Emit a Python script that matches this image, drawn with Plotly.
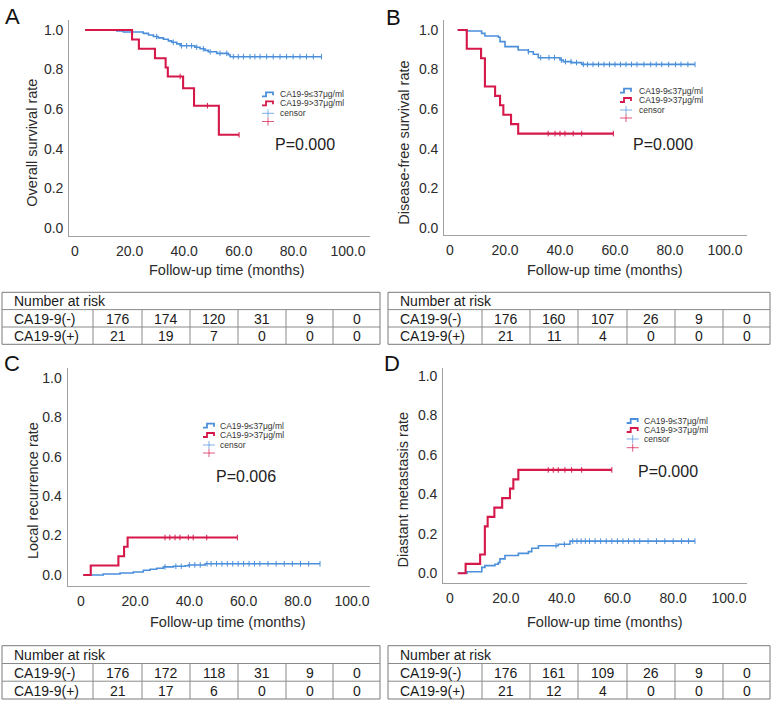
import plotly.graph_objects as go

W, H = 773, 707
BLUE = "#4b8fdb"
RED = "#d5174a"
AXIS_GREY = "#a0a0a0"
TABLE_GREY = "#8a8a8a"
TXT = "#2b2b2b"
FONT = "Liberation Sans, Arial, Helvetica, sans-serif"

# ---------------- data ----------------
x_ticks = [0, 20, 40, 60, 80, 100]
x_tick_text = ["0", "20.0", "40.0", "60.0", "80.0", "100.0"]
y_ticks = [0, 0.2, 0.4, 0.6, 0.8, 1.0]
y_tick_text = ["0.0", "0.2", "0.4", "0.6", "0.8", "1.0"]

group_names = ["CA19-9\u226437\u03bcg/ml", "CA19-9>37\u03bcg/ml"]
row_labels = ["CA19-9(-)", "CA19-9(+)"]
panel_letters = ["A", "B", "C", "D"]
y_titles = ["Overall survival rate", "Disease-free survival rate",
            "Local recurrence rate", "Diastant metastasis rate"]
x_title = "Follow-up time (months)"
p_values = ["P=0.000", "P=0.000", "P=0.006", "P=0.000"]

# A - overall survival
a_neg_t = [3.7, 15.3, 17.7, 25.0, 26.9, 28.7, 30.5, 32.4, 34.2, 35.4, 37.3, 38.5,
           43.9, 45.8, 47.6, 48.8, 51.9, 56.2, 56.8]
a_neg_s = [1.0, 0.995, 0.99, 0.983, 0.975, 0.967, 0.96, 0.953, 0.945, 0.938, 0.93, 0.92,
           0.913, 0.905, 0.897, 0.89, 0.882, 0.875, 0.865]
a_neg_end = 90.3
a_neg_cens = [29.9, 36.0, 39.0, 40.9, 42.7, 44.6, 47.0, 49.5, 53.1, 55.6, 58.0, 59.8,
              61.7, 64.1, 65.9, 67.8, 70.2, 72.6, 75.1, 77.5, 79.9, 82.4, 84.8, 87.3, 90.3]
a_pos_t = [3.7, 20.9, 23.4, 29.3, 33.2, 34.0, 39.6, 43.6, 52.7]
a_pos_s = [1.0, 0.952, 0.905, 0.857, 0.81, 0.765, 0.705, 0.617, 0.47]
a_pos_end = 60.1
a_pos_cens = [38.5, 48.5, 60.1]

# B - disease-free survival
b_neg_t = [2.8, 6.0, 11.5, 12.7, 17.6, 18.2, 20.0, 24.8, 28.5, 30.3, 32.1, 40.0,
           41.2, 44.2, 47.9]
b_neg_s = [1.0, 0.995, 0.983, 0.97, 0.963, 0.941, 0.916, 0.899, 0.89, 0.877, 0.86,
           0.848, 0.84, 0.835, 0.826]
b_neg_end = 89.1
b_neg_cens = [28.5, 33.0, 36.0, 38.0, 40.5, 42.0, 44.0, 46.0, 48.5, 50.0, 52.0, 54.0,
              56.0, 58.0, 60.0, 62.0, 64.0, 66.0, 68.0, 70.5, 73.0, 75.0, 77.0, 79.5,
              82.0, 84.0, 86.5, 89.1]
b_pos_t = [2.8, 6.1, 11.3, 12.7, 16.4, 18.2, 19.4, 22.2, 24.8]
b_pos_s = [1.0, 0.905, 0.857, 0.714, 0.667, 0.619, 0.571, 0.524, 0.476]
b_pos_end = 59.4
b_pos_cens = [35.7, 38.2, 40.0, 41.8, 44.8, 47.9, 59.4]

# C - local recurrence
c_neg_t = [0.85, 8.2, 14.4, 19.3, 23.0, 25.5, 27.9, 30.4, 34.1, 38.4, 39.6, 45.8]
c_neg_s = [0.0, 0.005, 0.01, 0.015, 0.024, 0.029, 0.034, 0.041, 0.044, 0.047, 0.051, 0.057]
c_neg_end = 88.2
c_neg_cens = [31.0, 35.0, 37.0, 40.0, 42.0, 44.0, 46.5, 48.0, 50.0, 52.0, 54.0, 56.0,
              58.0, 60.0, 62.0, 64.0, 66.0, 69.0, 72.0, 75.0, 78.0, 81.0, 84.0, 88.2]
c_pos_t = [0.85, 3.6, 13.8, 15.9, 17.2]
c_pos_s = [0.0, 0.048, 0.095, 0.143, 0.19]
c_pos_end = 57.7
c_pos_cens = [31.0, 32.8, 34.7, 36.5, 39.6, 41.4, 46.4, 57.7]

# D - distant metastasis
d_neg_t = [2.8, 6.1, 11.4, 12.5, 16.1, 17.3, 17.9, 19.7, 24.5, 28.1, 29.3, 31.7, 38.8, 43.0]
d_neg_s = [0.0, 0.008, 0.03, 0.039, 0.046, 0.054, 0.073, 0.09, 0.101, 0.11, 0.127,
           0.14, 0.147, 0.163]
d_neg_end = 87.8
d_neg_cens = [38.0, 41.0, 44.0, 45.5, 47.0, 48.5, 50.0, 52.0, 54.0, 56.0, 58.0, 60.0,
              62.0, 64.0, 66.0, 68.0, 71.0, 74.0, 77.0, 80.0, 83.0, 85.5, 87.8]
d_pos_t = [2.8, 5.6, 10.8, 12.5, 13.5, 15.9, 18.7, 21.5, 22.7, 24.5]
d_pos_s = [0.0, 0.048, 0.095, 0.238, 0.286, 0.333, 0.381, 0.429, 0.476, 0.524]
d_pos_end = 58.0
d_pos_cens = [35.2, 37.0, 38.8, 41.2, 43.6, 47.2, 58.0]

# number at risk
a_risk_neg = [176, 174, 120, 31, 9, 0]
a_risk_pos = [21, 19, 7, 0, 0, 0]
b_risk_neg = [176, 160, 107, 26, 9, 0]
b_risk_pos = [21, 11, 4, 0, 0, 0]
c_risk_neg = [176, 172, 118, 31, 9, 0]
c_risk_pos = [21, 17, 6, 0, 0, 0]
d_risk_neg = [176, 161, 109, 26, 9, 0]
d_risk_pos = [21, 12, 4, 0, 0, 0]

curves = [
    [(a_neg_t, a_neg_s, a_neg_end, a_neg_cens), (a_pos_t, a_pos_s, a_pos_end, a_pos_cens)],
    [(b_neg_t, b_neg_s, b_neg_end, b_neg_cens), (b_pos_t, b_pos_s, b_pos_end, b_pos_cens)],
    [(c_neg_t, c_neg_s, c_neg_end, c_neg_cens), (c_pos_t, c_pos_s, c_pos_end, c_pos_cens)],
    [(d_neg_t, d_neg_s, d_neg_end, d_neg_cens), (d_pos_t, d_pos_s, d_pos_end, d_pos_cens)],
]
risks = [(a_risk_neg, a_risk_pos), (b_risk_neg, b_risk_pos),
         (c_risk_neg, c_risk_pos), (d_risk_neg, d_risk_pos)]

# ---------------- layout geometry (pixels) ----------------
# plot box: left, right, top, bottom; x0 = pixel of month 0, k = px/month;
# y0/y1 = pixel rows of 0.0 and 1.0
geom = [
    dict(l=69.3, r=370, t=20, b=236, x0=75, k=2.73, y0=227.7, y1=30),
    dict(l=444.3, r=746.7, t=20, b=235, x0=450, k=2.75, y0=227.7, y1=30),
    dict(l=67.7, r=370, t=368.3, b=585.7, x0=81, k=2.71, y0=575, y1=377.7),
    dict(l=443.3, r=746.7, t=368.3, b=583.3, x0=450, k=2.79, y0=573.3, y1=376),
]
letter_pos = [(12, 16), (393, 17), (12, 363), (392, 363)]
ytitle_pos = [(31.7, 143), (403.3, 142.5), (32.3, 490.8), (403.3, 489.2)]
xtitle_pos = [(227, 270), (605, 270), (228, 622), (605, 622)]
p_pos = [(305, 144.3), (663.3, 144), (245.8, 476.7), (668.3, 471.7)]
legend_pos = [  # icon left, text left, row centres
    (262, 278, [94.3, 103.3, 113.3, 121.5]),
    (620, 636.7, [90.7, 100, 110, 118]),
    (203, 218.3, [425.7, 435, 445, 453]),
    (626.7, 641.7, [421, 430, 439, 447.7]),
]
table_x = [[2, 93, 142, 190, 238, 286, 333, 380],
           [388, 482, 530, 578, 627, 675, 723, 770]]
table_y = [[292.3, 309.6, 327, 344.3], [645.7, 663.5, 681.2, 699]]


def X(px):
    return px / W


def Y(py):
    return 1 - py / H


def label(text, px, py, size, color=TXT, xanchor="center", angle=0):
    return dict(text=text, x=X(px), y=Y(py), xref="paper", yref="paper",
                xanchor=xanchor, yanchor="middle", showarrow=False, textangle=angle,
                font=dict(size=size, color=color))


def value_at(ts, ss, t):
    v = ss[0]
    for ti, si in zip(ts, ss):
        if ti <= t:
            v = si
    return v


fig = go.Figure()
layout = dict(width=W, height=H, margin=dict(l=0, r=0, t=0, b=0),
              paper_bgcolor="white", plot_bgcolor="white", showlegend=False,
              font=dict(family=FONT, color=TXT))
shapes = []
annotations = []

for i in range(4):
    g = geom[i]
    sfx = "" if i == 0 else str(i + 1)
    xa, ya = "x" + sfx, "y" + sfx
    unit = g["y0"] - g["y1"]
    layout["xaxis" + sfx] = dict(
        domain=[X(g["l"]), X(g["r"])],
        range=[(g["l"] - g["x0"]) / g["k"], (g["r"] - g["x0"]) / g["k"]],
        anchor=ya, showline=True, linecolor=AXIS_GREY, linewidth=1.3,
        showgrid=False, zeroline=False, ticks="", ticklen=0, tickvals=x_ticks,
        ticktext=x_tick_text, tickfont=dict(size=14, color=TXT),
        ticklabelstandoff=2)
    layout["yaxis" + sfx] = dict(
        domain=[Y(g["b"]), Y(g["t"])],
        range=[-(g["b"] - g["y0"]) / unit, 1 + (g["y1"] - g["t"]) / unit],
        anchor=xa, showline=True, linecolor=AXIS_GREY, linewidth=1.3,
        showgrid=False, zeroline=False, ticks="", ticklen=0, tickvals=y_ticks,
        ticktext=y_tick_text, tickfont=dict(size=14, color=TXT),
        ticklabelstandoff=2)

    for j, (ts, ss, tend, cens) in enumerate(curves[i]):
        col = BLUE if j == 0 else RED
        fig.add_trace(go.Scatter(
            x=ts + [tend], y=ss + [ss[-1]], mode="lines", line_shape="hv",
            line=dict(color=col, width=1.6 if j == 0 else 2.1),
            xaxis=xa, yaxis=ya, name=group_names[j], hoverinfo="x+y"))
        fig.add_trace(go.Scatter(
            x=cens, y=[value_at(ts, ss, t) for t in cens], mode="markers",
            marker=dict(symbol="line-ns", size=4,
                        line=dict(color=col, width=1)),
            xaxis=xa, yaxis=ya, name="censor", hoverinfo="x+y"))

    # panel letter, axis titles, p value
    lx, ly = letter_pos[i]
    annotations.append(label(panel_letters[i], lx, ly, 22, "#111"))
    tx, ty = ytitle_pos[i]
    annotations.append(label(y_titles[i], tx, ty, 14.5, angle=-90))
    tx, ty = xtitle_pos[i]
    annotations.append(label(x_title, tx, ty, 14.5))
    tx, ty = p_pos[i]
    annotations.append(label(p_values[i], tx, ty, 16, "#222"))

    # legend block
    ix, txl, rows = legend_pos[i]
    entries = [(BLUE, group_names[0]), (RED, group_names[1]), (BLUE, "censor"), (RED, "")]
    for r, (col, name) in enumerate(entries):
        yc = rows[r]
        if r < 2:
            path = "M {} {} L {} {} L {} {} L {} {} L {} {}".format(
                X(ix), Y(yc + 2), X(ix + 4), Y(yc + 2), X(ix + 4), Y(yc - 2),
                X(ix + 11), Y(yc - 2), X(ix + 11), Y(yc + 1))
            shapes.append(dict(type="path", path=path, xref="paper", yref="paper",
                               line=dict(color=col, width=1.8)))
        else:
            shapes.append(dict(type="line", xref="paper", yref="paper",
                               x0=X(ix), x1=X(ix + 12), y0=Y(yc), y1=Y(yc),
                               line=dict(color=col, width=1), opacity=0.7))
            shapes.append(dict(type="line", xref="paper", yref="paper",
                               x0=X(ix + 6), x1=X(ix + 6), y0=Y(yc - 4), y1=Y(yc + 4),
                               line=dict(color=col, width=1), opacity=0.7))
        if name:
            annotations.append(label(name, txl, yc, 8.5, "#333", xanchor="left"))

    # number-at-risk table
    xs = table_x[i % 2]
    ys = table_y[i // 2]
    shapes.append(dict(type="rect", xref="paper", yref="paper", x0=X(xs[0]), x1=X(xs[-1]),
                       y0=Y(ys[0]), y1=Y(ys[-1]), line=dict(color="#7a7a7a", width=1)))
    for yy in ys[1:-1]:
        shapes.append(dict(type="line", xref="paper", yref="paper", x0=X(xs[0]),
                           x1=X(xs[-1]), y0=Y(yy), y1=Y(yy),
                           line=dict(color=TABLE_GREY, width=1)))
    for xx in xs[1:-1]:
        shapes.append(dict(type="line", xref="paper", yref="paper", x0=X(xx), x1=X(xx),
                           y0=Y(ys[1]), y1=Y(ys[-1]), line=dict(color=TABLE_GREY, width=1)))
    annotations.append(label("Number at risk", xs[0] + 10, (ys[0] + ys[1]) / 2 + 0.5, 14,
                             "#1a1a1a", xanchor="left"))
    for r in range(2):
        yc = (ys[r + 1] + ys[r + 2]) / 2 + 0.5
        annotations.append(label(row_labels[r], xs[0] + 10, yc, 14, "#1a1a1a", xanchor="left"))
        for c, n in enumerate(risks[i][r]):
            annotations.append(label(str(n), (xs[c + 1] + xs[c + 2]) / 2, yc, 14, "#1a1a1a"))

layout["shapes"] = shapes
layout["annotations"] = annotations
fig.update_layout(**layout)
# drop the browser's default 8px body margin so the figure sits at the page origin
fig.write_html("out.html", config={"displayModeBar": False},
               post_script="document.body.style.margin='0px';")
